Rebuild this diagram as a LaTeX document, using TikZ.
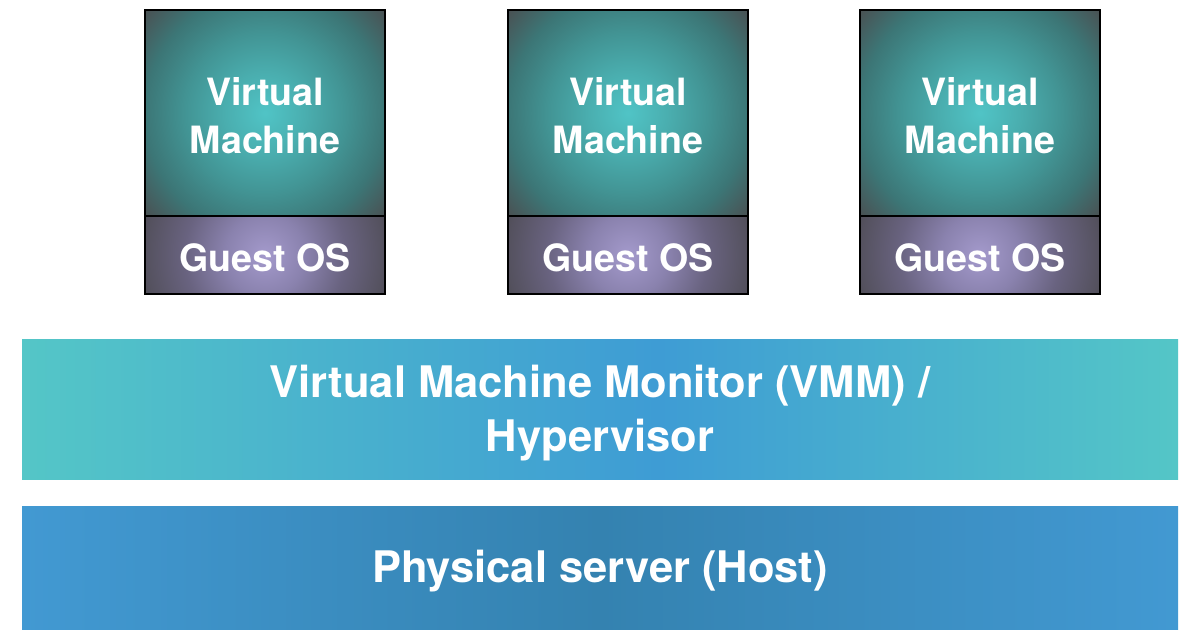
\documentclass[tikz,border=0pt]{standalone}
\usepackage{fontspec}
\setmainfont{TeX Gyre Heros}
\usetikzlibrary{backgrounds}
\definecolor{vmin}{RGB}{80,196,198}
\definecolor{vma}{RGB}{74,174,175}
\definecolor{vmq}{RGB}{66,148,148}
\definecolor{vmmid}{RGB}{60,118,118}
\definecolor{vmout}{RGB}{74,80,82}
\definecolor{osin}{RGB}{164,154,204}
\definecolor{osa}{RGB}{138,130,174}
\definecolor{osq}{RGB}{105,99,128}
\definecolor{osmid}{RGB}{84,81,94}
\definecolor{osout}{RGB}{76,75,82}
\definecolor{vmmedge}{RGB}{84,198,199}
\definecolor{vmmmid}{RGB}{62,156,212}
\definecolor{phedge}{RGB}{66,153,210}
\definecolor{phmid}{RGB}{52,130,176}
\pgfdeclareradialshading{vmshade}{\pgfpoint{0bp}{0bp}}{color(0bp)=(vmin); color(40bp)=(vma); color(80bp)=(vmq); color(120bp)=(vmmid); color(158bp)=(vmout); color(170bp)=(vmout)}
\pgfdeclareradialshading{osshade}{\pgfpoint{0bp}{0bp}}{color(0bp)=(osin); color(40bp)=(osa); color(80bp)=(osq); color(120bp)=(osmid); color(130bp)=(osout); color(170bp)=(osout)}
\pgfdeclarehorizontalshading{vmmshade}{100bp}{color(0bp)=(vmmedge); color(25bp)=(vmmedge); color(52.5bp)=(vmmmid); color(75bp)=(vmmedge); color(100bp)=(vmmedge)}
\pgfdeclarehorizontalshading{phshade}{100bp}{color(0bp)=(phedge); color(25bp)=(phedge); color(50bp)=(phmid); color(75bp)=(phedge); color(100bp)=(phedge)}
\tikzset{
  vmbox/.style={draw=black, line width=1.6pt, minimum width=240pt, minimum height=206pt, inner sep=0pt, outer sep=0pt, anchor=north west},
  osbox/.style={draw=black, line width=1.6pt, minimum width=240pt, minimum height=78pt, inner sep=0pt, outer sep=0pt, anchor=north west},
  glow/.style={inner sep=0pt, outer sep=0pt},
  boxtext/.style={text=white, align=center, inner sep=0pt, font=\fontsize{37.6}{48}\selectfont\bfseries},
  barbox/.style={draw=none, minimum width=1156pt, inner sep=0pt, outer sep=0pt, anchor=north west},
  bartext/.style={text=white, align=center, inner sep=0pt, font=\fontsize{43.5}{54}\selectfont\bfseries}
}
\begin{document}
\begin{tikzpicture}[x=1pt,y=-1pt]
\useasboundingbox (0,0) rectangle (1200,642);
\node[vmbox] (vm1) at (145,10) {};
\node[osbox] (os1) at (145,216) {};
\node[vmbox] (vm2) at (508,10) {};
\node[osbox] (os2) at (508,216) {};
\node[vmbox] (vm3) at (860,10) {};
\node[osbox] (os3) at (860,216) {};
\begin{scope}[on background layer]
\fill[white] (0,0) rectangle (1200,642);
\foreach \b/\s in {vm1/vmshade, vm2/vmshade, vm3/vmshade, os1/osshade, os2/osshade, os3/osshade}{
  \begin{scope}
    \clip (\b.north west) rectangle (\b.south east);
    \node[glow] (\b g) at (\b.center) {\pgfuseshading{\s}};
  \end{scope}
}
\end{scope}
\node[barbox, shading=vmmshade, minimum height=140pt] (vmm) at (22,339) {};
\node[barbox, shading=phshade, minimum height=123pt] (host) at (22,506) {};
\foreach \i in {1,2,3}{
  \node[boxtext] (vm\i t) at ([yshift=-3pt]vm\i.center) {Virtual\\Machine};
  \node[boxtext] (os\i t) at ([yshift=-2.5pt]os\i.center) {Guest OS};
}
\node[bartext] (vmmt) at ([yshift=-4pt]vmm.center) {Virtual Machine Monitor (VMM) /\\Hypervisor};
\node[bartext] (hostt) at ([yshift=-4pt]host.center) {Physical server (Host)};
\end{tikzpicture}
\end{document}
